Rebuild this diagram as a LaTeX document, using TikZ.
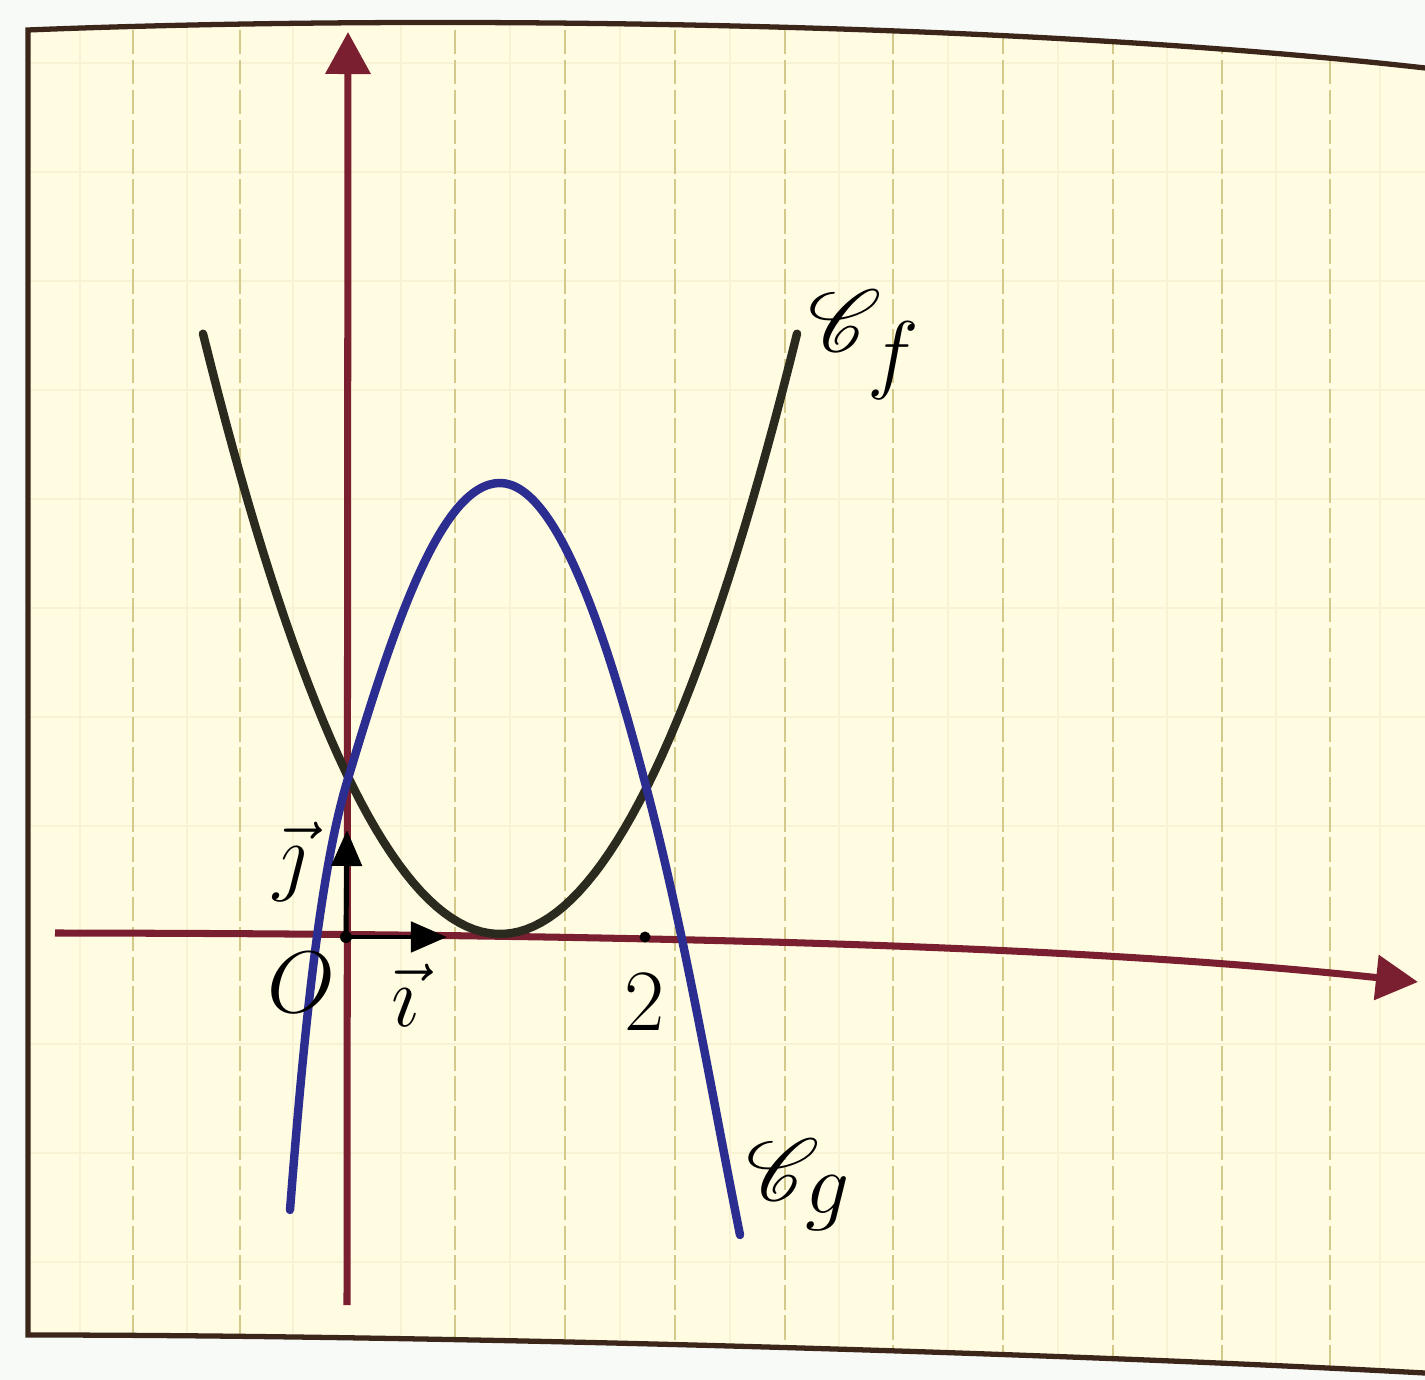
\documentclass[tikz,border=0pt]{standalone}
\usepackage{amsmath}
\usepackage{mathrsfs}
\usetikzlibrary{arrows.meta}
\definecolor{paper}{HTML}{FFFCE2}
\definecolor{outside}{HTML}{F8FAF8}
\definecolor{gridc}{HTML}{D2C98A}
\definecolor{gridf}{HTML}{F7F2D4}
\definecolor{framec}{HTML}{3B2619}
\definecolor{axisc}{HTML}{7A1F30}
\definecolor{cfc}{HTML}{2B2A1F}
\definecolor{cgc}{HTML}{2C2D90}
\begin{document}
\begin{tikzpicture}[x=0.01cm,y=-0.01cm,
  gridline/.style={gridc, line width=0.8pt, dash pattern=on 7pt off 1.5pt},
  faintline/.style={gridf, line width=0.6pt},
  axisline/.style={axisc, line width=2pt, -{Triangle[length=0.42cm,width=0.44cm]}},
  unitvec/.style={black, line width=1.4pt, -{Triangle[length=0.36cm,width=0.30cm]}},
  curvef/.style={cfc, line width=2.4pt, line cap=round},
  curveg/.style={cgc, line width=2.4pt, line cap=round},
  lbl/.style={inner sep=0pt, font=\fontsize{26}{30}\selectfont},
  biglbl/.style={inner sep=0pt, font=\fontsize{36}{42}\selectfont}
]
\useasboundingbox (0,0) rectangle (1425,1380);
\fill[outside] (0,0) rectangle (1425,1380);
\path[fill=paper] (28,30) .. controls (400,15) and (1000,20) .. (1425,68)
   -- (1425,1373) .. controls (1000,1350) and (400,1335) .. (28,1335) -- cycle;
\begin{scope}
  \clip (28,30) .. controls (400,15) and (1000,20) .. (1425,68)
   -- (1425,1373) .. controls (1000,1350) and (400,1335) .. (28,1335) -- cycle;
  \foreach \xx in {80,187,293,401,510,620,730,839,948,1058,1167,1276,1380}
    \draw[faintline] (\xx,0) -- (\xx,1380);
  \foreach \yy in {63,172,281,390,499,608,717,826,1044,1153,1262}
    \draw[faintline] (28,\yy) -- (1425,\yy);
  \foreach \xx in {133,240,455,565,675,785,893,1003,1113,1222,1330}
    \draw[gridline] (\xx,0) -- (\xx,1380);
\end{scope}
\draw[framec, line width=1.5pt] (1425,68) .. controls (1000,20) and (400,15) .. (28,30)
   -- (28,1335) .. controls (400,1335) and (1000,1350) .. (1425,1373);
% axes
\coordinate (xs) at (55,933);
\coordinate (xe) at (1418,982);
\coordinate (ys) at (347,1305);
\coordinate (ye) at (348,32);
\draw[axisline] (xs) .. controls (700,934) and (1100,948) .. (xe);
\draw[axisline] (ys) -- (ye);
% curve C_f
\draw[curvef] plot[domain=203:797, samples=80] (\x, {934-0.0068*(\x-500)*(\x-500)});
% curve C_g
\coordinate (g0) at (290,1210);
\coordinate (g1) at (347,782);
\coordinate (g2) at (500,483);
\coordinate (g3) at (643,775);
\coordinate (g4) at (740,1235);
\draw[curveg] (g0) .. controls (301,1070) and (317,882) .. (g1)
  .. controls (392,632) and (440,483) .. (g2)
  .. controls (560,483) and (611,655) .. (g3)
  .. controls (683.5,925) and (710,1085) .. (g4);
% unit vectors
\coordinate (O) at (346,937);
\coordinate (ie) at (447,937);
\coordinate (je) at (347,830);
\draw[unitvec] (O) -- (ie);
\draw[unitvec] (O) -- (je);
\fill (O) circle (6);
\node[circle, fill=black, inner sep=0pt, minimum size=0.11cm] (two) at (645,937) {};
% labels
\node[lbl] (lO) at (301,983) {$O$};
\node[lbl] (li) at (405,995) {$\vec{\imath}$};
\node[lbl] (lj) at (290,862) {$\vec{\jmath}$};
\node[lbl] (l2) at (645,1002) {$2$};
\node[biglbl, anchor=west] (lf) at (808,345) {$\mathscr{C}_f$};
\node[biglbl, anchor=west] (lg) at (746,1185) {$\mathscr{C}_g$};
\end{tikzpicture}
\end{document}
